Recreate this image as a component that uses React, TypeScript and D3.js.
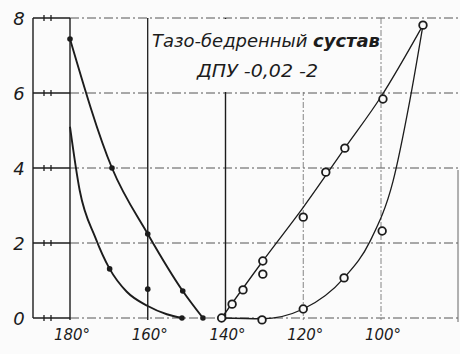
import React, { useEffect, useRef } from "react";
import * as d3 from "d3";

// angle (deg) on x, value on y
const angleTicks = [180, 160, 140, 120, 100];
const valueTicks = [0, 2, 4, 6, 8];

const upperLeftPts: [number, number][] = [
  [180, 7.44], [169.2, 4.0], [160, 2.24], [151, 0.72], [145.8, 0],
];
const lowerLeftPts: [number, number][] = [
  [169.8, 1.31], [160, 0.77], [151.2, 0],
];
const lowerLeftLine: [number, number][] = [
  [180, 5.1], [177.5, 3.4], [173.5, 2.15], [169.8, 1.31], [165.4, 0.7],
  [160, 0.32], [155.1, 0.1], [151.2, 0],
];
const upperRightPts: [number, number][] = [
  [141, 0], [138.3, 0.37], [135.5, 0.75], [130.4, 1.52], [130.4, 1.17],
  [120, 2.69], [114.2, 3.89], [109.3, 4.53], [99.5, 5.84], [89.2, 7.81],
];
const upperRightLine: [number, number][] = [
  [141, 0], [130.4, 1.52], [120, 2.95], [109.3, 4.53], [100, 5.9], [89.2, 7.81],
];
const lowerRightPts: [number, number][] = [
  [130.6, -0.05], [120, 0.24], [109.5, 1.07], [99.7, 2.32],
];
const lowerRightLine: [number, number][] = [
  [141, 0], [130.6, -0.02], [120, 0.24], [109.5, 1.07], [102.8, 2.05],
  [96.9, 3.65], [92.6, 5.79], [89.2, 7.81],
];

const App = () => {
  const ref = useRef<SVGSVGElement>(null);

  useEffect(() => {
    const svg = d3.select(ref.current);
    svg.selectAll("*").remove();

    const x = d3.scaleLinear().domain([180, 100]).range([70, 381]);
    const y = d3.scaleLinear().domain([0, 8]).range([318, 18]);
    const ink = "#1c1c1c";
    const paper = "#fbfbfb";
    const font = "'DejaVu Sans', sans-serif";

    svg.append("rect").attr("width", 460).attr("height", 354).attr("fill", paper);

    const grid = svg.append("g");
    // horizontal lines
    valueTicks.forEach((v) => {
      grid.append("line")
        .attr("x1", 33).attr("x2", x(180)).attr("y1", y(v)).attr("y2", y(v))
        .attr("stroke", ink).attr("stroke-width", 1.3);
      grid.append("line")
        .attr("x1", x(180)).attr("x2", 458).attr("y1", y(v)).attr("y2", y(v))
        .attr("stroke", "#555").attr("stroke-width", 1)
        .attr("stroke-dasharray", "9,3,2,3");
      [44, 51].forEach((tx) => {
        grid.append("line")
          .attr("x1", tx).attr("x2", tx).attr("y1", y(v) - 3).attr("y2", y(v) + 3)
          .attr("stroke", ink).attr("stroke-width", 1.3);
      });
    });
    // left axis
    grid.append("line")
      .attr("x1", 33).attr("x2", 33).attr("y1", y(8)).attr("y2", y(0))
      .attr("stroke", ink).attr("stroke-width", 1.4);
    // vertical lines
    angleTicks.forEach((a) => {
      const solid = a >= 140;
      grid.append("line")
        .attr("x1", x(a)).attr("x2", x(a)).attr("y1", y(8)).attr("y2", y(0) + 2)
        .attr("stroke", solid ? ink : "#777")
        .attr("stroke-width", solid ? 1.4 : 0.9)
        .attr("stroke-dasharray", solid ? null : "6,2,2,2");
    });
    grid.append("line")
      .attr("x1", 458).attr("x2", 458).attr("y1", 170).attr("y2", y(0) + 4)
      .attr("stroke", "#666").attr("stroke-width", 1);

    // title box
    svg.append("rect")
      .attr("x", x(160) + 1).attr("y", y(8) + 1)
      .attr("width", x(100) - x(160) - 2).attr("height", y(6) - y(8) - 2)
      .attr("fill", paper);
    const title = svg.append("text")
      .attr("x", 152).attr("y", 47)
      .attr("font-family", font).attr("font-style", "italic")
      .attr("font-size", 18).attr("fill", ink)
      .attr("textLength", 228).attr("lengthAdjust", "spacingAndGlyphs");
    title.append("tspan").text("Тазо-бедренный ");
    title.append("tspan").attr("font-weight", "bold").text("сустав");
    svg.append("text")
      .attr("x", 197).attr("y", 77)
      .attr("font-family", font).attr("font-style", "italic")
      .attr("font-size", 18).attr("fill", ink)
      .attr("textLength", 121).attr("lengthAdjust", "spacingAndGlyphs")
      .text("ДПУ -0,02 -2");

    // axis labels
    valueTicks.forEach((v) => {
      svg.append("text")
        .attr("x", 19).attr("y", y(v) + 7).attr("text-anchor", "middle")
        .attr("font-family", font).attr("font-style", "italic")
        .attr("font-size", 18).attr("fill", ink).text(v);
    });
    angleTicks.forEach((a) => {
      svg.append("text")
        .attr("x", x(a) + 2).attr("y", 340).attr("text-anchor", "middle")
        .attr("font-family", font).attr("font-style", "italic")
        .attr("font-size", 15).attr("fill", ink).text(`${a}°`);
    });

    // curves
    const smooth = d3.line<[number, number]>()
      .x((d) => x(d[0])).y((d) => y(d[1]))
      .curve(d3.curveMonotoneX);
    const curves: [[number, number][], number][] = [
      [upperLeftPts, 1.9], [lowerLeftLine, 1.9],
      [upperRightLine, 1.3], [lowerRightLine, 1.3],
    ];
    curves.forEach(([pts, w]) => {
      svg.append("path").attr("d", smooth(pts)).attr("fill", "none")
        .attr("stroke", ink).attr("stroke-width", w);
    });

    // markers
    [...upperLeftPts, ...lowerLeftPts].forEach((d) => {
      svg.append("circle").attr("cx", x(d[0])).attr("cy", y(d[1]))
        .attr("r", 2.8).attr("fill", ink);
    });
    [...upperRightPts, ...lowerRightPts].forEach((d) => {
      svg.append("circle").attr("cx", x(d[0])).attr("cy", y(d[1]))
        .attr("r", 3.8).attr("fill", paper)
        .attr("stroke", ink).attr("stroke-width", 1.8);
    });
  }, []);

  return (
    <svg
      ref={ref}
      width={460}
      height={354}
      style={{ position: "absolute", left: 0, top: 0 }}
    />
  );
};

export default App;
